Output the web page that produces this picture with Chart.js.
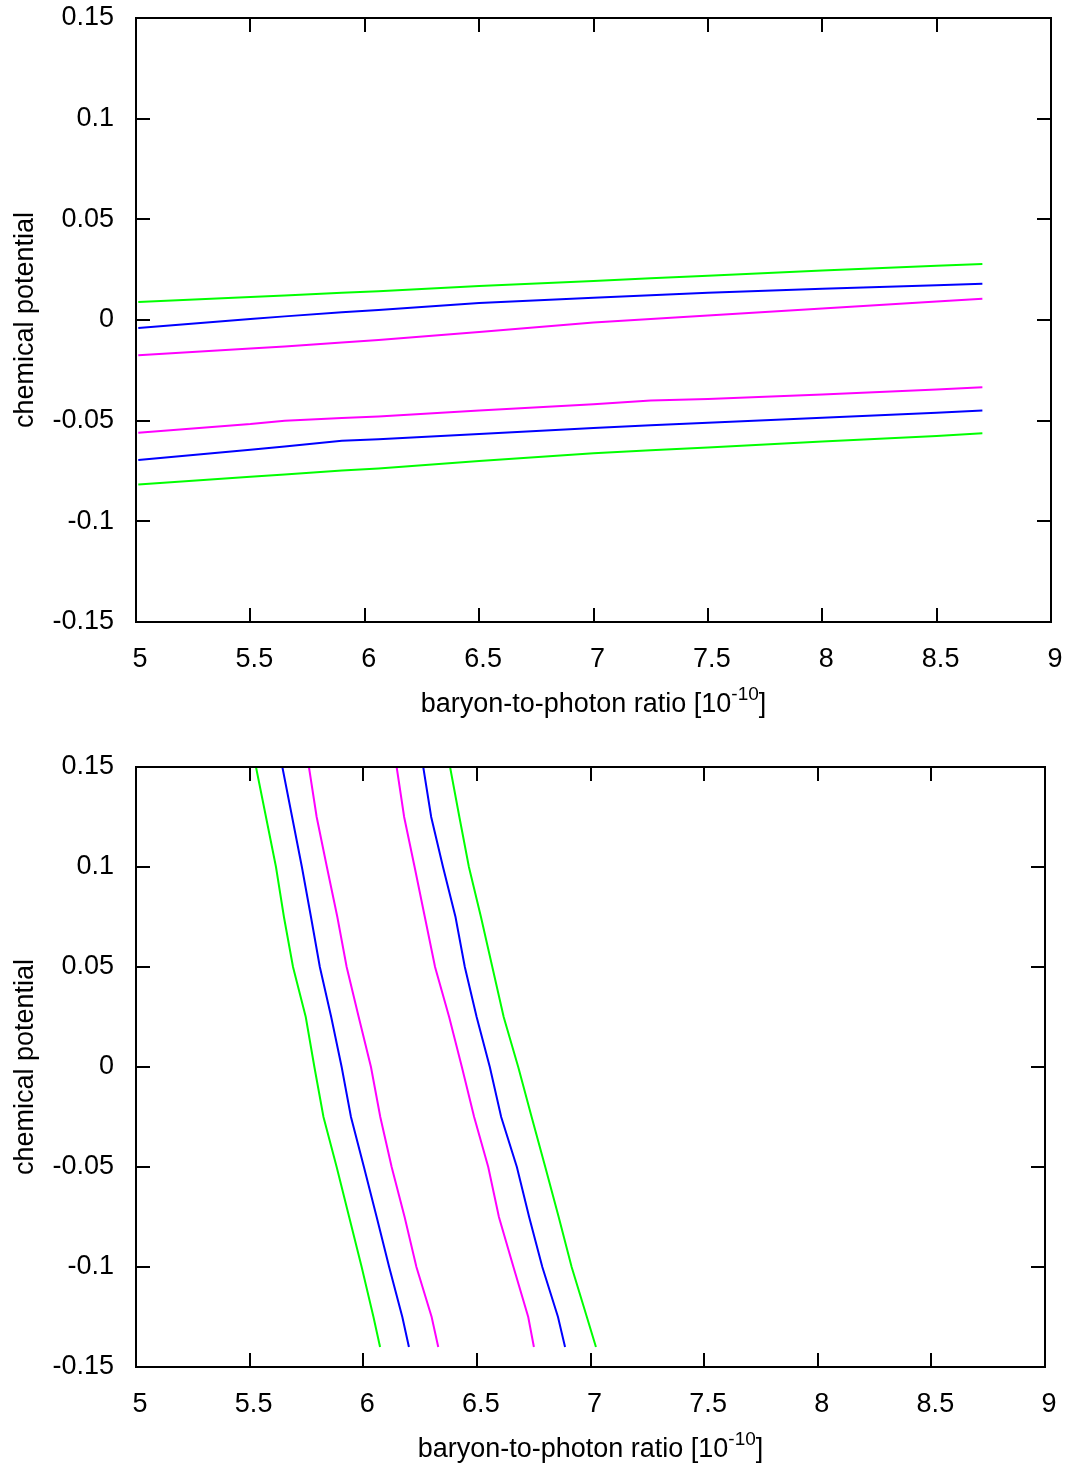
<!DOCTYPE html>
<html lang="en">
<head>
<meta charset="UTF-8">
<title>Chemical potential vs baryon-to-photon ratio</title>
<script src="https://cdn.jsdelivr.net/npm/chart.js"></script>
<style>
    body { margin: 0; background: #fff; }
    .panel { position: absolute; left: 0; width: 1069px; }
    #topPanel { top: 0; height: 740px; }
    #bottomPanel { top: 740px; height: 725px; }
</style>
</head>
<body>
<div class="panel" id="topPanel"><canvas id="topChart" width="1069" height="740"></canvas></div>
<div class="panel" id="bottomPanel"><canvas id="bottomChart" width="1069" height="725"></canvas></div>

<script>
// ---- top panel: chemical potential as a function of eta ----
const topEta = [5.01, 5.5, 5.65, 5.9, 6.06, 6.5, 7, 7.25, 7.5, 8, 8.5, 8.7];
const topGreenHigh   = [0.0090, 0.0114, 0.0122, 0.0135, 0.0143, 0.0169, 0.0194, 0.0207, 0.0220, 0.0246, 0.0270, 0.0278];
const topBlueHigh    = [-0.0040, 0.0005, 0.0018, 0.0038, 0.0050, 0.0085, 0.0110, 0.0123, 0.0135, 0.0155, 0.0172, 0.0180];
const topMagentaHigh = [-0.0175, -0.0142, -0.0132, -0.0112, -0.0099, -0.0059, -0.0012, 0.0005, 0.0022, 0.0057, 0.0092, 0.0106];
const topMagentaLow  = [-0.0560, -0.0517, -0.0500, -0.0487, -0.0479, -0.0449, -0.0419, -0.0400, -0.0393, -0.0370, -0.0345, -0.0334];
const topBlueLow     = [-0.0695, -0.0644, -0.0628, -0.0600, -0.0592, -0.0566, -0.0537, -0.0523, -0.0510, -0.0486, -0.0461, -0.0450];
const topGreenLow    = [-0.0817, -0.0779, -0.0767, -0.0748, -0.0737, -0.0700, -0.0662, -0.0647, -0.0633, -0.0604, -0.0576, -0.0563];

// ---- bottom panel: eta as a function of chemical potential ----
const bottomMu = [0.15, 0.125, 0.1, 0.075, 0.05, 0.025, 0, -0.025, -0.05, -0.075, -0.1, -0.125, -0.14];
const bottomGreenLeft    = [5.528, 5.572, 5.616, 5.651, 5.691, 5.747, 5.785, 5.825, 5.883, 5.938, 5.993, 6.045, 6.074];
const bottomBlueLeft     = [5.644, 5.687, 5.730, 5.770, 5.809, 5.859, 5.905, 5.946, 6.003, 6.059, 6.114, 6.172, 6.201];
const bottomMagentaLeft  = [5.761, 5.795, 5.840, 5.886, 5.927, 5.980, 6.034, 6.075, 6.125, 6.182, 6.234, 6.301, 6.330];
const bottomMagentaRight = [6.147, 6.180, 6.226, 6.271, 6.316, 6.378, 6.434, 6.488, 6.550, 6.597, 6.661, 6.726, 6.751];
const bottomBlueRight    = [6.264, 6.299, 6.351, 6.406, 6.447, 6.499, 6.557, 6.607, 6.676, 6.730, 6.788, 6.857, 6.888];
const bottomGreenRight   = [6.382, 6.423, 6.465, 6.518, 6.568, 6.618, 6.682, 6.741, 6.801, 6.860, 6.917, 6.984, 7.024];

const GREEN = '#00ff00', BLUE = '#0000ff', MAGENTA = '#ff00ff';
const FONT = { family: '"Liberation Sans", Arial, sans-serif', size: 27 };

function series(xs, ys, color) {
    return {
        data: xs.map((x, i) => ({ x: x, y: ys[i] })),
        borderColor: color,
        borderWidth: 2,
        pointRadius: 0,
        showLine: true,
        fill: false,
        tension: 0
    };
}

function fmt(v) {
    return String(Math.round(v * 100) / 100);
}

// box, inward ticks on all four sides, and x title with a superscript
const framePlugin = {
    id: 'frame',
    afterDraw(chart) {
        const ctx = chart.ctx;
        const a = chart.chartArea;
        const xs = chart.scales.x, ys = chart.scales.y;
        const len = 14;
        ctx.save();
        ctx.strokeStyle = '#000';
        ctx.lineWidth = 2;
        ctx.beginPath();
        xs.ticks.forEach(t => {
            const px = Math.round(xs.getPixelForValue(t.value));
            ctx.moveTo(px, a.bottom); ctx.lineTo(px, a.bottom - len);
            ctx.moveTo(px, a.top); ctx.lineTo(px, a.top + len);
        });
        ys.ticks.forEach(t => {
            const py = Math.round(ys.getPixelForValue(t.value));
            ctx.moveTo(a.left, py); ctx.lineTo(a.left + len, py);
            ctx.moveTo(a.right, py); ctx.lineTo(a.right - len, py);
        });
        ctx.stroke();
        ctx.strokeRect(a.left, a.top, a.right - a.left, a.bottom - a.top);

        const main = 'baryon-to-photon ratio [10';
        const sup = '-10';
        const close = ']';
        const big = FONT.size + 'px ' + FONT.family;
        const small = '19px ' + FONT.family;
        ctx.fillStyle = '#000';
        ctx.textBaseline = 'alphabetic';
        ctx.textAlign = 'left';
        ctx.font = big;
        const w1 = ctx.measureText(main).width;
        const w3 = ctx.measureText(close).width;
        ctx.font = small;
        const w2 = ctx.measureText(sup).width;
        const total = w1 + w2 + w3;
        let x0 = (a.left + a.right) / 2 - total / 2;
        const base = a.bottom + 90;
        ctx.font = big;
        ctx.fillText(main, x0, base);
        ctx.font = small;
        ctx.fillText(sup, x0 + w1, base - 12);
        ctx.font = big;
        ctx.fillText(close, x0 + w1 + w2, base);
        ctx.restore();
    }
};

function makeChart(id, datasets, pad, xHeight) {
    return new Chart(document.getElementById(id), {
        type: 'scatter',
        data: { datasets: datasets },
        options: {
            responsive: false,
            animation: false,
            layout: { padding: pad },
            plugins: { legend: { display: false }, tooltip: { enabled: false } },
            scales: {
                x: {
                    type: 'linear', min: 5, max: 9,
                    grid: { display: false, drawTicks: false },
                    border: { display: false },
                    ticks: { stepSize: 0.5, font: FONT, color: '#000', padding: 21, labelOffset: 4, maxRotation: 0, autoSkip: false, callback: fmt },
                    afterFit(s) { s.height = xHeight; s.paddingLeft = 0; s.paddingRight = 0; }
                },
                y: {
                    type: 'linear', min: -0.15, max: 0.15,
                    grid: { display: false, drawTicks: false },
                    border: { display: false },
                    ticks: { stepSize: 0.05, font: FONT, color: '#000', padding: 22, autoSkip: false, callback: fmt },
                    title: { display: true, text: 'chemical potential', font: FONT, color: '#000', padding: { top: 9, bottom: 0 } },
                    afterFit(s) { s.width = 136; s.paddingTop = 0; s.paddingBottom = 0; }
                }
            }
        },
        plugins: [framePlugin]
    });
}

makeChart('topChart', [
    series(topEta, topGreenHigh, GREEN),
    series(topEta, topBlueHigh, BLUE),
    series(topEta, topMagentaHigh, MAGENTA),
    series(topEta, topMagentaLow, MAGENTA),
    series(topEta, topBlueLow, BLUE),
    series(topEta, topGreenLow, GREEN)
], { left: 0, right: 18, top: 18, bottom: 0 }, 118);

makeChart('bottomChart', [
    series(bottomGreenLeft, bottomMu, GREEN),
    series(bottomBlueLeft, bottomMu, BLUE),
    series(bottomMagentaLeft, bottomMu, MAGENTA),
    series(bottomMagentaRight, bottomMu, MAGENTA),
    series(bottomBlueRight, bottomMu, BLUE),
    series(bottomGreenRight, bottomMu, GREEN)
], { left: 0, right: 24, top: 27, bottom: 0 }, 98);
</script>
</body>
</html>
